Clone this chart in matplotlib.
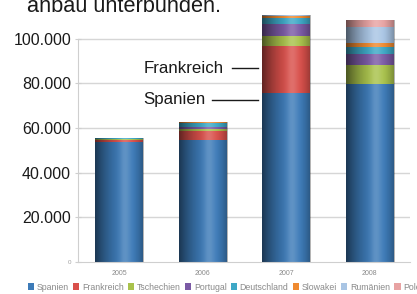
import numpy as np
import matplotlib.pyplot as plt
from matplotlib.patches import Patch

plt.rcParams['font.family'] = ['Liberation Sans', 'DejaVu Sans']

years = ['2005', '2006', '2007', '2008']
countries = ['Spanien', 'Frankreich', 'Tschechien', 'Portugal',
             'Deutschland', 'Slowakei', 'Rumänien', 'Polen']
colors = ['#3d7bb8', '#d9504b', '#a9c24c', '#7b5aa5',
          '#3ea8c6', '#ef8a30', '#a9c5e4', '#e8a3a3']

# Anbaufläche in ha je Land und Jahr (aus dem Bild geschätzt)
spanien = [53700, 54600, 75500, 79600]
frankreich = [1000, 4000, 21300, 0]
tschechien = [200, 800, 4500, 8500]
portugal = [300, 1000, 5100, 4800]
deutschland = [200, 2000, 2700, 3400]
slowakei = [0, 200, 1100, 1500]
rumaenien = [0, 0, 300, 7400]
polen = [0, 0, 0, 3000]

series = [spanien, frankreich, tschechien, portugal,
          deutschland, slowakei, rumaenien, polen]

yticks = [0, 20000, 40000, 60000, 80000, 100000]
ytick_labels = ['0', '20.000', '40.000', '60.000', '80.000', '100.000']

fig = plt.figure(figsize=(4.17, 2.94), dpi=100)
ax = fig.add_axes([78 / 417, 32 / 294, 332 / 417, 257 / 294])

x = np.arange(len(years))
width = 0.575
bottom = np.zeros(len(years))
for vals, c in zip(series, colors):
    ax.bar(x, vals, width, bottom=bottom, color=c, zorder=2, linewidth=0)
    bottom += np.array(vals)

# cylinder shading over each bar
t = np.linspace(0, 1, 60)
shade = np.zeros((1, len(t), 4))
dark = np.where(t < 0.6, 0.55 * (1 - t / 0.6) ** 1.6, 0.0)
dark += np.where(t > 0.75, 0.3 * ((t - 0.75) / 0.25) ** 1.5, 0.0)
light = 0.18 * np.exp(-((t - 0.62) / 0.12) ** 2)
shade[0, :, :3] = (light / (light + dark + 1e-9))[:, None]
shade[0, :, 3] = np.clip(dark + light, 0, 1)
for xi, tot in zip(x, bottom):
    ax.imshow(shade, extent=[xi - width / 2, xi + width / 2, 0, tot],
              aspect='auto', zorder=3, interpolation='bilinear')

ax.set_xlim(-0.49, 3.48)
ax.set_ylim(0, 115000)

for gy in yticks[1:]:
    ax.axhline(gy, color='#d6d6d6', linewidth=1, zorder=1)

for s in ['top', 'right']:
    ax.spines[s].set_visible(False)
ax.spines['left'].set_color('#cfcfcf')
ax.spines['left'].set_bounds(0, 100000)
ax.spines['bottom'].set_color('#cfcfcf')

ax.set_yticks(yticks)
ax.set_yticklabels(ytick_labels, fontsize=11.5, color='#1a1a1a')
ax.tick_params(axis='y', direction='inout', length=4, color='#cfcfcf', pad=3)
lab0 = ax.get_yticklabels()[0]
lab0.set_fontsize(4.5)
lab0.set_color('#a0a0a0')

ax.set_xticks(x)
ax.set_xticklabels(years, fontsize=5, color='#8a8a8a')
ax.tick_params(axis='x', length=0, pad=6)

# annotations
ax.text(1.255, 86600, 'Frankreich', fontsize=12.2, ha='right', va='center', color='#1a1a1a')
ax.plot([1.35, 1.66], [86600, 86600], color='#1a1a1a', linewidth=1, clip_on=False)
ax.text(1.04, 72500, 'Spanien', fontsize=12.2, ha='right', va='center', color='#1a1a1a')
ax.plot([1.11, 1.66], [72500, 72500], color='#1a1a1a', linewidth=1, clip_on=False)

fig.text(27 / 417, 1 - 11.5 / 294, 'anbau unterbunden.', fontsize=15.7,
         ha='left', va='baseline', color='#1a1a1a')

handles = [Patch(facecolor=c, edgecolor='none') for c in colors]
fig.legend(handles, countries, ncol=8, loc='center left',
           bbox_to_anchor=(28 / 417, 1 - 287 / 294), frameon=False,
           fontsize=6.3, labelcolor='#8a8a8a', handlelength=0.7,
           handleheight=0.7, handletextpad=0.3, columnspacing=0.5,
           borderpad=0, borderaxespad=0)

fig.savefig('out.png', dpi=100)
